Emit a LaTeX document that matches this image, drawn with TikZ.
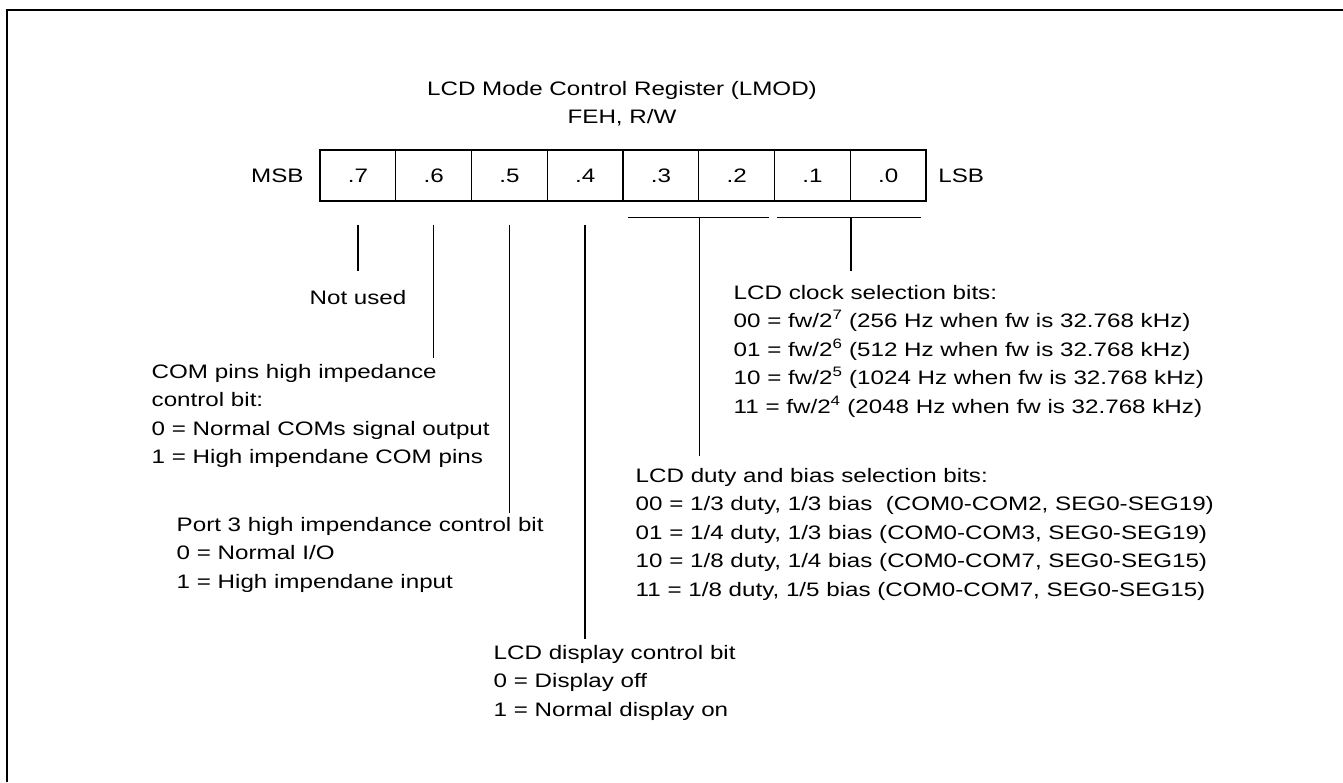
\documentclass[tikz,border=0pt]{standalone}
\usepackage{fontspec}
\setmainfont{Liberation Sans}[FakeStretch=1.24]
\usetikzlibrary{positioning}

\begin{document}
\begin{tikzpicture}[
    x=1pt, y=-1pt,
    line width=1.4pt,
    node distance=15pt,
    cell/.style={draw, minimum width=75.75pt, minimum height=51pt, inner sep=0pt, font=\fontsize{19.5}{28.5}\selectfont},
    txt/.style={align=left, inner sep=0pt, font=\fontsize{19.5}{28.5}\selectfont}
]
\useasboundingbox (0,0) rectangle (1343,782);
\draw[line width=2pt] (7,782) -- (7,10) -- (1343,10);

\node[txt, align=center, anchor=base] (title) at (622,123.5) {LCD Mode Control Register (LMOD)\\FEH, R/W};

% register bits
\foreach \b [count=\k from 0] in {7,...,0}
    \node[cell] (b\b) at (357.875+75.75*\k, 175.5) {.\b};
\node[txt, left=of b7] (msb) {MSB};
\node[txt, right=11pt of b0] (lsb) {LSB};

% leads
\draw ([yshift=-23pt]b7.south) -- ([yshift=-69pt]b7.south);
\draw ([yshift=-23pt]b6.south) -- ([yshift=-156pt]b6.south);
\draw ([yshift=-23pt]b5.south) -- ([yshift=-311pt]b5.south);
\draw ([yshift=-23pt]b4.south) -- ([yshift=-437pt]b4.south);
\draw ([xshift=6pt,yshift=-16pt]b3.south west) -- ([xshift=-6pt,yshift=-16pt]b2.south east);
\draw ([yshift=-16pt]b3.south east) -- ([yshift=-254pt]b3.south east);
\draw ([xshift=3pt,yshift=-16pt]b1.south west) -- ([xshift=-6pt,yshift=-16pt]b0.south east);
\draw ([yshift=-16pt]b1.south east) -- ([yshift=-69pt]b1.south east);

% descriptions (base = last line)
\node[txt, anchor=base] (notused) at (358,304) {Not used};
\node[txt, anchor=base west] (compins) at (151,463.5) {COM pins high impedance\\control bit:\\0 = Normal COMs signal output\\1 = High impendane COM pins};
\node[txt, anchor=base west] (port3) at (176,588) {Port 3 high impendance control bit\\0 = Normal I/O\\1 = High impendane input};
\node[txt, anchor=base west] (display) at (493,716) {LCD display control bit\\0 = Display off\\1 = Normal display on};
\node[txt, anchor=base west] (clock) at (733,413) {LCD clock selection bits:\\
    00 = fw/2\textsuperscript{7} (256 Hz when fw is 32.768 kHz)\\
    01 = fw/2\textsuperscript{6} (512 Hz when fw is 32.768 kHz)\\
    10 = fw/2\textsuperscript{5} (1024 Hz when fw is 32.768 kHz)\\
    11 = fw/2\textsuperscript{4} (2048 Hz when fw is 32.768 kHz)};
\node[txt, anchor=base west] (duty) at (635,596) {LCD duty and bias selection bits:\\
    00 = 1/3 duty, 1/3 bias\ \ (COM0-COM2, SEG0-SEG19)\\
    01 = 1/4 duty, 1/3 bias (COM0-COM3, SEG0-SEG19)\\
    10 = 1/8 duty, 1/4 bias (COM0-COM7, SEG0-SEG15)\\
    11 = 1/8 duty, 1/5 bias (COM0-COM7, SEG0-SEG15)};
\end{tikzpicture}
\end{document}
